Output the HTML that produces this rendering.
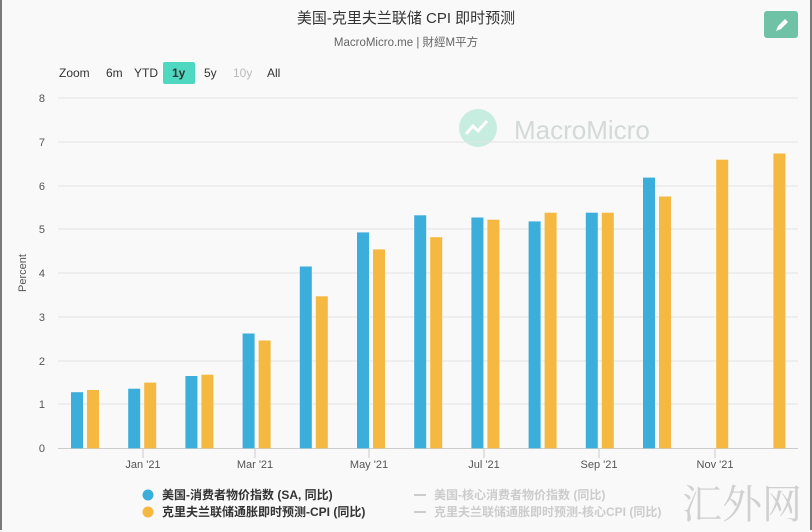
<!DOCTYPE html>
<html><head><meta charset="utf-8"><style>
html,body{margin:0;padding:0;}
body{width:812px;height:532px;background:#f9f9f9;position:relative;overflow:hidden;font-family:"Liberation Sans","Noto Sans CJK SC",sans-serif;}
.frame{position:absolute;left:0;top:0;width:808px;height:530px;border-left:2px solid #7a7a7a;border-right:2px solid #7a7a7a;}
</style></head><body>
<div class="frame"></div>
<svg width="812" height="532" style="position:absolute;left:0;top:0" font-family="Liberation Sans, Noto Sans CJK SC, sans-serif">
<text x="406" y="23" text-anchor="middle" font-size="15" fill="#333">美国-克里夫兰联储 CPI 即时预测</text>
<text x="406" y="46" text-anchor="middle" font-size="11.5" fill="#666">MacroMicro.me | 財經M平方</text>
<rect x="764" y="11" width="34" height="27" rx="3" fill="#6fc2a6"/>
<path d="M776 31 l2 -5 l7 -7 l3 3 l-7 7 z" fill="#fff"/>
<g font-size="12" fill="#333">
<text x="59" y="77">Zoom</text>
<text x="106" y="77">6m</text>
<text x="134" y="77">YTD</text>
<rect x="163" y="62" width="32" height="22" rx="2" fill="#4fd8c0"/>
<text x="172" y="77" font-weight="bold">1y</text>
<text x="204" y="77">5y</text>
<text x="233" y="77" fill="#bbb">10y</text>
<text x="267" y="77">All</text>
</g>
<circle cx="478" cy="128" r="19" fill="#c7ece0"/>
<path d="M466 134 l7 -8 l5 5 l9 -10" stroke="#fff" stroke-width="3" fill="none"/>
<text x="514" y="139" font-size="26" fill="#d3d9d7">MacroMicro</text>
<g stroke="#e3e3e3" stroke-width="1">
<line x1="58" x2="798" y1="98" y2="98"/><line x1="58" x2="798" y1="142" y2="142"/>
<line x1="58" x2="798" y1="186" y2="186"/><line x1="58" x2="798" y1="229" y2="229"/>
<line x1="58" x2="798" y1="273" y2="273"/><line x1="58" x2="798" y1="317" y2="317"/>
<line x1="58" x2="798" y1="361" y2="361"/><line x1="58" x2="798" y1="404" y2="404"/>
</g>
<line x1="58" x2="798" y1="448.5" y2="448.5" stroke="#ccc"/>
<g font-size="11" fill="#555" text-anchor="end">
<text x="45" y="102">8</text><text x="45" y="146">7</text><text x="45" y="190">6</text>
<text x="45" y="233">5</text><text x="45" y="277">4</text><text x="45" y="321">3</text>
<text x="45" y="365">2</text><text x="45" y="408">1</text><text x="45" y="452">0</text>
</g>
<text transform="translate(26,273) rotate(-90)" text-anchor="middle" font-size="11" fill="#555">Percent</text>
<g stroke="#ccc">
<line x1="143" x2="143" y1="448" y2="458"/><line x1="255" x2="255" y1="448" y2="458"/>
<line x1="369" x2="369" y1="448" y2="458"/><line x1="484" x2="484" y1="448" y2="458"/>
<line x1="599" x2="599" y1="448" y2="458"/><line x1="715" x2="715" y1="448" y2="458"/>
</g>
<g font-size="11" fill="#555" text-anchor="middle">
<text x="143" y="468">Jan '21</text><text x="255" y="468">Mar '21</text>
<text x="369" y="468">May '21</text><text x="484" y="468">Jul '21</text>
<text x="599" y="468">Sep '21</text><text x="715" y="468">Nov '21</text>
</g>
<g fill="#3caedb">
<rect x="71" y="392.2" width="12" height="56.1"/>
<rect x="128.2" y="388.7" width="12" height="59.6"/>
<rect x="185.4" y="376.0" width="12" height="72.3"/>
<rect x="242.6" y="333.5" width="12" height="114.8"/>
<rect x="299.8" y="266.5" width="12" height="181.8"/>
<rect x="357" y="232.4" width="12" height="215.9"/>
<rect x="414.2" y="215.3" width="12" height="233"/>
<rect x="471.4" y="217.5" width="12" height="230.8"/>
<rect x="528.6" y="221.4" width="12" height="226.9"/>
<rect x="585.8" y="212.7" width="12" height="235.6"/>
<rect x="643" y="177.6" width="12" height="270.7"/>
</g>
<g fill="#f5b942">
<rect x="87" y="390.0" width="12" height="58.3"/>
<rect x="144.2" y="382.6" width="12" height="65.7"/>
<rect x="201.4" y="374.7" width="12" height="73.6"/>
<rect x="258.6" y="340.5" width="12" height="107.8"/>
<rect x="315.8" y="296.3" width="12" height="152"/>
<rect x="373" y="249.4" width="12" height="198.9"/>
<rect x="430.2" y="237.2" width="12" height="211.1"/>
<rect x="487.4" y="219.7" width="12" height="228.6"/>
<rect x="544.6" y="212.7" width="12" height="235.6"/>
<rect x="601.8" y="212.7" width="12" height="235.6"/>
<rect x="659" y="196.5" width="12" height="251.8"/>
<rect x="716.2" y="159.7" width="12" height="288.6"/>
<rect x="773.4" y="153.5" width="12" height="294.8"/>
</g>
<circle cx="148" cy="495" r="5.5" fill="#3caedb"/>
<circle cx="148" cy="512" r="5.5" fill="#f5b942"/>
<g font-size="12" fill="#333" font-weight="bold">
<text x="162" y="499">美国-消费者物价指数 (SA, 同比)</text>
<text x="162" y="516">克里夫兰联储通胀即时预测-CPI (同比)</text>
</g>
<line x1="414" x2="426" y1="495" y2="495" stroke="#ccc" stroke-width="2"/>
<line x1="414" x2="426" y1="512" y2="512" stroke="#ccc" stroke-width="2"/>
<g font-size="12" fill="#ccc" font-weight="bold">
<text x="434" y="499">美国-核心消费者物价指数 (同比)</text>
<text x="434" y="516">克里夫兰联储通胀即时预测-核心CPI (同比)</text>
</g>
<text x="682" y="518" font-size="40" fill="#d0d0d0" font-family="Noto Serif CJK SC, serif">汇外网</text>
</svg>
</body></html>
